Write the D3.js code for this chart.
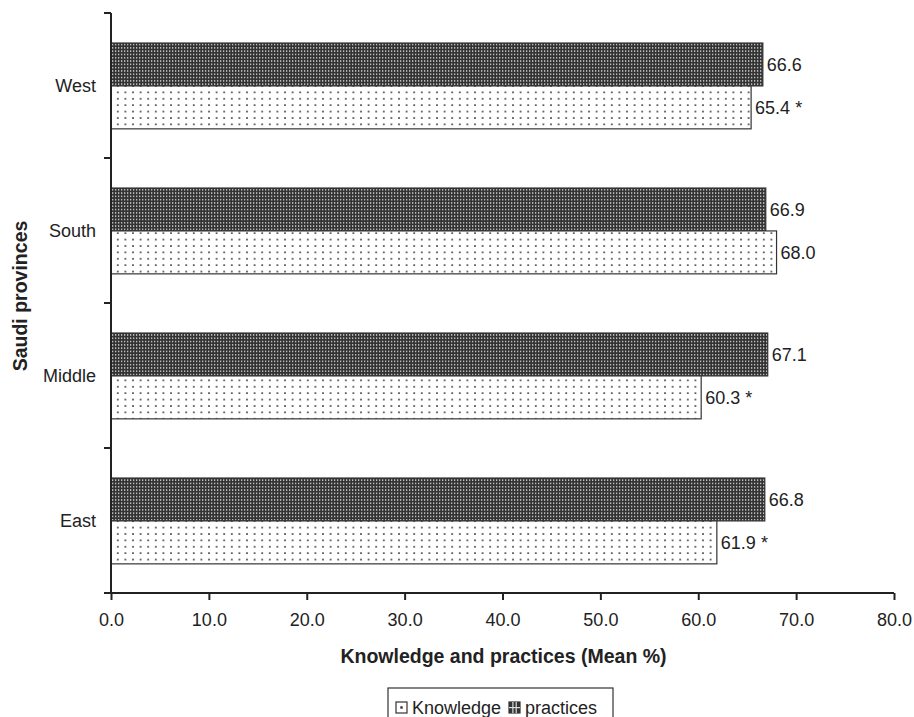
<!DOCTYPE html>
<html>
  <head>
    <meta charset="utf-8" />
    <script src="https://d3js.org/d3.v7.min.js"></script>
    <style>
      body { margin: 0; background: #fff; }
      text { font-family: "Liberation Sans", Arial, sans-serif; fill: #222; }
      .axis path, .axis line { stroke: #222; stroke-width: 2; }
      .bar { stroke: #333; stroke-width: 1.2; }
    </style>
  </head>
  <body>
    <div id="chart"></div>
    <script type="text/javascript">

      var w = 914, h = 717;

      var provinces = ["West", "South", "Middle", "East"];
      var practices = [66.6, 66.9, 67.1, 66.8];
      var knowledge = [65.4, 68.0, 60.3, 61.9];
      var knowledgeSig = [" *", "", " *", " *"];
      var xTicks = [0, 10, 20, 30, 40, 50, 60, 70, 80];

      var margin = { left: 111, right: 20, top: 13, bottom: 124 };
      var fs = 18;

      var svg = d3.select("#chart").append("svg")
        .attr("width", w).attr("height", h);

      // fill patterns
      var defs = svg.append("defs");
      var dark = defs.append("pattern").attr("id", "darkDots")
        .attr("patternUnits", "userSpaceOnUse").attr("width", 3).attr("height", 3.3);
      dark.append("rect").attr("width", 3).attr("height", 3.3).attr("fill", "#333");
      dark.append("rect").attr("x", 1).attr("y", 1).attr("width", 1.3).attr("height", 1.3).attr("fill", "#e0e0e0");

      var light = defs.append("pattern").attr("id", "lightDots")
        .attr("patternUnits", "userSpaceOnUse").attr("width", 7.6).attr("height", 6.4);
      light.append("rect").attr("width", 7.6).attr("height", 6.4).attr("fill", "#fff");
      light.append("rect").attr("x", 3).attr("y", 2).attr("width", 1.6).attr("height", 1.6).attr("fill", "#333");

      var x = d3.scaleLinear().domain([0, 80])
        .range([margin.left, w - margin.right]);
      var y = d3.scaleBand().domain(provinces)
        .range([margin.top, h - margin.bottom]);

      var rows = provinces.map(function(p, i) {
        return { name: p, practices: practices[i], knowledge: knowledge[i], sig: knowledgeSig[i] };
      });

      var barH = y.bandwidth() * 0.296;
      var off = y.bandwidth() * 0.207;

      var g = svg.append("g");

      g.selectAll("rect.prac").data(rows).enter().append("rect")
        .attr("class", "bar prac")
        .attr("x", x(0))
        .attr("y", function(d) { return y(d.name) + off; })
        .attr("width", function(d) { return x(d.practices) - x(0); })
        .attr("height", barH)
        .attr("fill", "url(#darkDots)");

      g.selectAll("rect.know").data(rows).enter().append("rect")
        .attr("class", "bar know")
        .attr("x", x(0))
        .attr("y", function(d) { return y(d.name) + off + barH; })
        .attr("width", function(d) { return x(d.knowledge) - x(0); })
        .attr("height", barH)
        .attr("fill", "url(#lightDots)");

      g.selectAll("text.pv").data(rows).enter().append("text")
        .attr("x", function(d) { return x(d.practices) + 4; })
        .attr("y", function(d) { return y(d.name) + off + barH / 2; })
        .attr("dy", "0.35em").attr("font-size", fs)
        .text(function(d) { return d.practices.toFixed(1); });

      g.selectAll("text.kv").data(rows).enter().append("text")
        .attr("x", function(d) { return x(d.knowledge) + 4; })
        .attr("y", function(d) { return y(d.name) + off + barH * 1.5; })
        .attr("dy", "0.35em").attr("font-size", fs)
        .text(function(d) { return d.knowledge.toFixed(1) + d.sig; });

      // x axis
      var xAxis = svg.append("g").attr("class", "axis")
        .attr("transform", "translate(0," + (h - margin.bottom) + ")")
        .call(d3.axisBottom(x).tickValues(xTicks).tickSize(7).tickSizeOuter(7).tickPadding(13)
          .tickFormat(d3.format(".1f")));
      xAxis.selectAll("text").attr("font-size", fs).attr("fill", "#222")
        .attr("font-family", "Liberation Sans, Arial, sans-serif");
      xAxis.select(".domain").attr("d", "M" + (margin.left - 7) + ",0H" + (w - margin.right));

      // y axis with ticks between the bands
      var yAxis = svg.append("g").attr("class", "axis");
      yAxis.append("line")
        .attr("x1", margin.left).attr("x2", margin.left)
        .attr("y1", margin.top).attr("y2", h - margin.bottom);
      var bounds = provinces.map(function(p) { return y(p); }).concat([h - margin.bottom]);
      yAxis.selectAll("line.tk").data(bounds).enter().append("line")
        .attr("class", "tk")
        .attr("x1", margin.left - 7).attr("x2", margin.left)
        .attr("y1", function(d) { return d; }).attr("y2", function(d) { return d; });
      yAxis.selectAll("text").data(provinces).enter().append("text")
        .attr("x", margin.left - 15)
        .attr("y", function(d) { return y(d) + off + barH; })
        .attr("dy", "0.35em").attr("text-anchor", "end").attr("font-size", fs)
        .text(function(d) { return d; });

      // axis titles
      svg.append("text")
        .attr("x", (341 + 666) / 2).attr("y", 663)
        .attr("text-anchor", "middle").attr("font-size", 19.5).attr("font-weight", "bold")
        .text("Knowledge and practices (Mean %)");

      svg.append("text")
        .attr("transform", "translate(27,296) rotate(-90)")
        .attr("text-anchor", "middle").attr("font-size", 19.5).attr("font-weight", "bold")
        .text("Saudi provinces");

      // legend
      var leg = svg.append("g").attr("transform", "translate(388,688)");
      leg.append("rect").attr("width", 225).attr("height", 40)
        .attr("fill", "#fff").attr("stroke", "#333").attr("stroke-width", 1.2);
      var items = [
        { label: "Knowledge", type: "k", x: 8 },
        { label: "practices", type: "p", x: 121 }
      ];
      items.forEach(function(it) {
        var ig = leg.append("g").attr("transform", "translate(" + it.x + ",14)");
        ig.append("rect").attr("width", 11).attr("height", 11)
          .attr("fill", it.type === "k" ? "#fff" : "#333").attr("stroke", "#333").attr("stroke-width", 1.2);
        if (it.type === "k") {
          ig.append("rect").attr("x", 4.3).attr("y", 4.3).attr("width", 2.4).attr("height", 2.4).attr("fill", "#333");
        } else {
          ig.append("rect").attr("x", 3.3).attr("y", 0).attr("width", 1.2).attr("height", 11).attr("fill", "#ddd");
          ig.append("rect").attr("x", 6.6).attr("y", 0).attr("width", 1.2).attr("height", 11).attr("fill", "#ddd");
          ig.append("rect").attr("x", 0).attr("y", 5).attr("width", 11).attr("height", 1.2).attr("fill", "#ddd");
        }
        ig.append("text").attr("x", 16).attr("y", 5.5).attr("dy", "0.35em")
          .attr("font-size", fs).text(it.label);
      });

    </script>
  </body>
</html>
